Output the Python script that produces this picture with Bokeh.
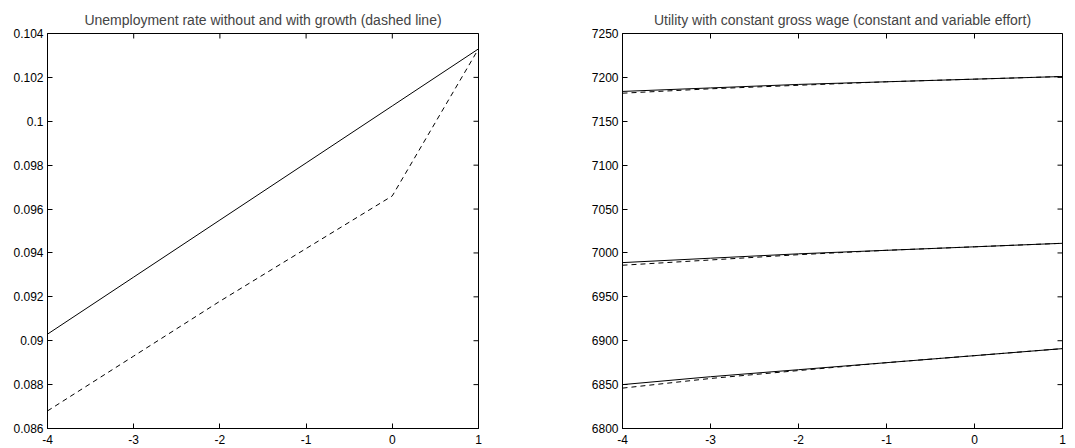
import math
from bokeh.plotting import figure
from bokeh.layouts import row
from bokeh.models import FixedTicker, Range1d
from bokeh.embed import file_html
from bokeh.resources import INLINE

# Shock index on the horizontal axis
x_vals = [-4, -3, -2, -1, 0, 1]

# Unemployment rate: without growth (solid) and with growth (dashed)
u_no_growth = [0.0903, 0.0929, 0.0955, 0.0981, 0.1007, 0.1033]
u_growth = [0.0868, 0.0893, 0.0918, 0.0942, 0.0966, 0.1033]

# Utility with constant gross wage: constant effort (solid), variable effort (dashed)
util_hi_const = [7184, 7188, 7192, 7195, 7198, 7201]
util_hi_var = [7182, 7187, 7191, 7195, 7198, 7201]
util_mid_const = [6989, 6994, 6999, 7003, 7007, 7011]
util_mid_var = [6986, 6992, 6998, 7003, 7007, 7011]
util_lo_const = [6850, 6859, 6867, 6875, 6883, 6891]
util_lo_var = [6846, 6857, 6866, 6875, 6883, 6891]

x_ticks = [-4, -3, -2, -1, 0, 1]
x_tick_labels = ["-4", "-3", "-2", "-1", "0", "1"]
u_ticks = [0.086, 0.088, 0.09, 0.092, 0.094, 0.096, 0.098, 0.1, 0.102, 0.104]
u_tick_labels = ["0.086", "0.088", "0.09", "0.092", "0.094", "0.096", "0.098", "0.1", "0.102", "0.104"]
util_ticks = [6800, 6850, 6900, 6950, 7000, 7050, 7100, 7150, 7200, 7250]
util_tick_labels = [str(t) for t in util_ticks]

FONT = "Liberation Sans"
TICK_FS = "12px"
TITLE_FS = "14px"


def style_axis(ax, ticks, labels, standoff):
    ax.ticker = FixedTicker(ticks=ticks)
    ax.major_label_overrides = {t: l for t, l in zip(ticks, labels)}
    ax.axis_line_color = "black"
    ax.axis_line_width = 1
    ax.major_tick_line_color = "black"
    ax.major_tick_in = 5
    ax.major_tick_out = 0
    ax.minor_tick_line_color = None
    ax.major_label_text_font = FONT
    ax.major_label_text_font_size = TICK_FS
    ax.major_label_text_color = "black"
    ax.major_label_standoff = standoff


def make_panel(title, y_lo, y_hi, yticks, ylabels, width, left, right):
    p = figure(width=width, height=448, output_backend="svg", toolbar_location=None,
               x_range=Range1d(-4, 1), y_range=Range1d(y_lo, y_hi),
               min_border_left=left, min_border_right=right,
               min_border_top=33, min_border_bottom=20)
    p.title.text = title
    p.title.text_font = FONT
    p.title.text_font_size = TITLE_FS
    p.title.text_font_style = "normal"
    p.title.align = "center"
    p.title.standoff = 11
    p.grid.visible = False
    p.outline_line_color = "black"
    p.background_fill_color = "white"
    p.border_fill_color = "white"
    style_axis(p.xaxis[0], x_ticks, x_tick_labels, 6)
    style_axis(p.yaxis[0], yticks, ylabels, 4)
    # mirrored inward ticks on the top and right edges of the frame
    p.scatter(x_ticks, [y_hi] * len(x_ticks), marker="dash", size=10,
              angle=math.pi / 2, line_color="black", line_width=1)
    p.scatter([1] * len(yticks), yticks, marker="dash", size=10,
              line_color="black", line_width=1)
    return p


p1 = make_panel("Unemployment rate without and with growth (dashed line)",
                0.086, 0.104, u_ticks, u_tick_labels, 540, 47, 62)
p1.line(x_vals, u_no_growth, line_color="black", line_width=1)
p1.line(x_vals, u_growth, line_color="black", line_width=1, line_dash="5 4")

p2 = make_panel("Utility with constant gross wage (constant and variable effort)",
                6800, 7250, util_ticks, util_tick_labels, 535, 82, 13)
for const, var in [(util_hi_const, util_hi_var), (util_mid_const, util_mid_var),
                   (util_lo_const, util_lo_var)]:
    p2.line(x_vals, const, line_color="black", line_width=1)
    p2.line(x_vals, var, line_color="black", line_width=1, line_dash="5 4")

layout = row(p1, p2)
open("out.html", "w").write(file_html(layout, INLINE))
